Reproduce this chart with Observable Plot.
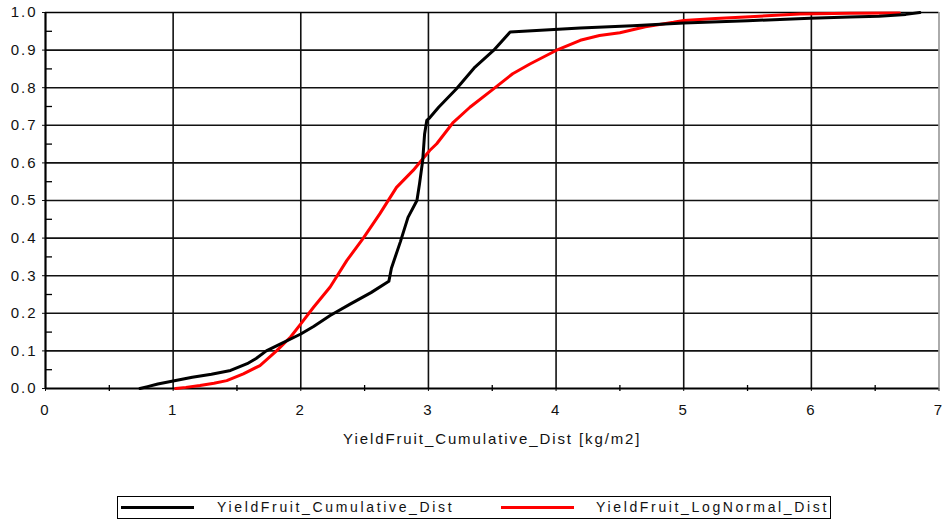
<!DOCTYPE html>
<html>
<head>
<meta charset="utf-8">
<script src="https://cdn.jsdelivr.net/npm/d3@7"></script>
<script src="https://cdn.jsdelivr.net/npm/@observablehq/plot@0.6"></script>
<style>
  html, body { margin: 0; padding: 0; background: #fff; }
  #wrap { position: relative; width: 947px; height: 525px; font-family: "Liberation Sans", Arial, sans-serif; }
  #legend { position: absolute; left: 117px; top: 496px; width: 714px; height: 23px; border: 1px solid #000; box-sizing: border-box; background: #fff; }
  .sw { position: absolute; top: 9px; width: 73px; height: 3px; }
  .lt { position: absolute; top: 2px; font-size: 14px; letter-spacing: 2.65px; color: #111; white-space: nowrap; }
</style>
</head>
<body>
<div id="wrap">
  <div id="chart"></div>
  <div id="legend"></div>
</div>
<script>
// Empirical cumulative distribution of fruit yield (kg/m2)
const cumX = [0.74, 0.80, 0.88, 1.00, 1.15, 1.30, 1.45, 1.58, 1.65, 1.73, 1.85, 2.00, 2.10, 2.23, 2.39, 2.55, 2.69, 2.71, 2.78, 2.84, 2.91, 2.93, 2.955, 2.97, 2.987, 3.01, 3.08, 3.22, 3.365, 3.51, 3.64, 4.19, 4.60, 5.00, 5.50, 5.99, 6.30, 6.53, 6.74, 6.85];
const cumY = [0, 0.005, 0.012, 0.02, 0.03, 0.038, 0.048, 0.066, 0.08, 0.10, 0.12, 0.145, 0.165, 0.194, 0.225, 0.255, 0.285, 0.32, 0.39, 0.455, 0.50, 0.544, 0.606, 0.677, 0.713, 0.72, 0.748, 0.797, 0.855, 0.899, 0.948, 0.959, 0.965, 0.972, 0.978, 0.985, 0.988, 0.99, 0.995, 1.0];

// Fitted log-normal cumulative distribution
const lnX = [1.02, 1.10, 1.21, 1.32, 1.42, 1.55, 1.68, 1.81, 1.92, 2.00, 2.10, 2.23, 2.36, 2.49, 2.62, 2.75, 2.88, 3.01, 3.065, 3.195, 3.325, 3.51, 3.66, 3.795, 4.00, 4.19, 4.34, 4.50, 4.70, 4.92, 5.00, 5.25, 5.52, 5.91, 6.30, 6.69];
const lnY = [0, 0.003, 0.008, 0.014, 0.021, 0.039, 0.061, 0.10, 0.137, 0.172, 0.216, 0.27, 0.34, 0.40, 0.465, 0.535, 0.58, 0.633, 0.651, 0.708, 0.748, 0.797, 0.837, 0.863, 0.899, 0.926, 0.939, 0.946, 0.962, 0.974, 0.979, 0.984, 0.989, 0.996, 0.998, 0.999];

const seriesNames = ["YieldFruit_Cumulative_Dist", "YieldFruit_LogNormal_Dist"];
const seriesColors = ["#000000", "#ff0000"];
const xTicks = [0, 1, 2, 3, 4, 5, 6, 7];
const yTicks = [0, 0.1, 0.2, 0.3, 0.4, 0.5, 0.6, 0.7, 0.8, 0.9, 1.0];
const xMinor = [0.5, 1.5, 2.5, 3.5, 4.5, 5.5, 6.5];
const yMinor = [0.05, 0.15, 0.25, 0.35, 0.45, 0.55, 0.65, 0.75, 0.85, 0.95];
const xTitle = "YieldFruit_Cumulative_Dist [kg/m2]";

const cumData = cumX.map((x, i) => ({x, y: cumY[i]}));
const lnData = lnX.map((x, i) => ({x, y: lnY[i]}));

const xPerPx = 7 / (947 - 45 - 8.5);
const yPerPx = 1 / 376;

const chart = Plot.plot({
  width: 947,
  height: 460,
  marginLeft: 45,
  marginRight: 8.5,
  marginTop: 12,
  marginBottom: 72,
  style: {fontFamily: "'Liberation Sans', Arial, sans-serif", fontSize: "15px", color: "#111", background: "#fff"},
  x: {domain: [0, 7]},
  y: {domain: [0, 1]},
  marks: [
    // grid
    Plot.ruleY(yTicks.slice(1, -1), {stroke: "#111", strokeWidth: 1.6}),
    Plot.ruleX(xTicks.slice(1, -1), {stroke: "#111", strokeWidth: 1.6}),
    Plot.ruleY([1], {stroke: "#000", strokeWidth: 1.6}),
    Plot.ruleX([7], {stroke: "#888", strokeWidth: 1.4}),
    // minor ticks
    Plot.ruleY(yMinor, {x1: 0, x2: 7 * xPerPx, stroke: "#000", strokeWidth: 1.3}),
    Plot.ruleX(xMinor, {y1: -3 * yPerPx, y2: 3 * yPerPx, stroke: "#000", strokeWidth: 1.3}),
    // axes
    Plot.axisX({ticks: xTicks, tickFormat: d => String(d), tickSize: 3, tickPadding: 13, label: null}),
    Plot.axisY({ticks: yTicks, tickFormat: d => d.toFixed(1), tickSize: 3, tickPadding: 5, label: null}),
    Plot.ruleY([0], {stroke: "#000", strokeWidth: 2}),
    Plot.ruleX([0], {stroke: "#000", strokeWidth: 2.2}),
    // series
    Plot.line(lnData, {x: "x", y: "y", stroke: seriesColors[1], strokeWidth: 3, curve: "linear"}),
    Plot.line(cumData, {x: "x", y: "y", stroke: seriesColors[0], strokeWidth: 3, curve: "linear"}),
    // axis title
    Plot.text([xTitle], {text: d => d, frameAnchor: "bottom", dy: 55, fontSize: 15, fill: "#111"})
  ]
});
document.getElementById("chart").appendChild(chart);

// larger, wider-spaced tick labels and a spaced-out axis title
d3.select(chart).selectAll("text").each(function() {
  const t = this.textContent;
  if (t === xTitle) {
    this.style.letterSpacing = "1.9px";
  } else if (/^\d(\.\d)?$/.test(t)) {
    this.style.fontSize = "15px";
    this.style.letterSpacing = "2px";
  }
});
d3.select(chart).selectAll("g").each(function() {
  if (this.getAttribute("font-size") === "10") this.setAttribute("font-size", "15");
});

// legend
const legend = d3.select("#legend");
const swLeft = [3, 383];
const txtLeft = [99, 478];
seriesNames.forEach((name, i) => {
  legend.append("div").attr("class", "sw").style("left", swLeft[i] + "px").style("background", seriesColors[i]);
  legend.append("div").attr("class", "lt").style("left", txtLeft[i] + "px").text(name);
});
</script>
</body>
</html>
